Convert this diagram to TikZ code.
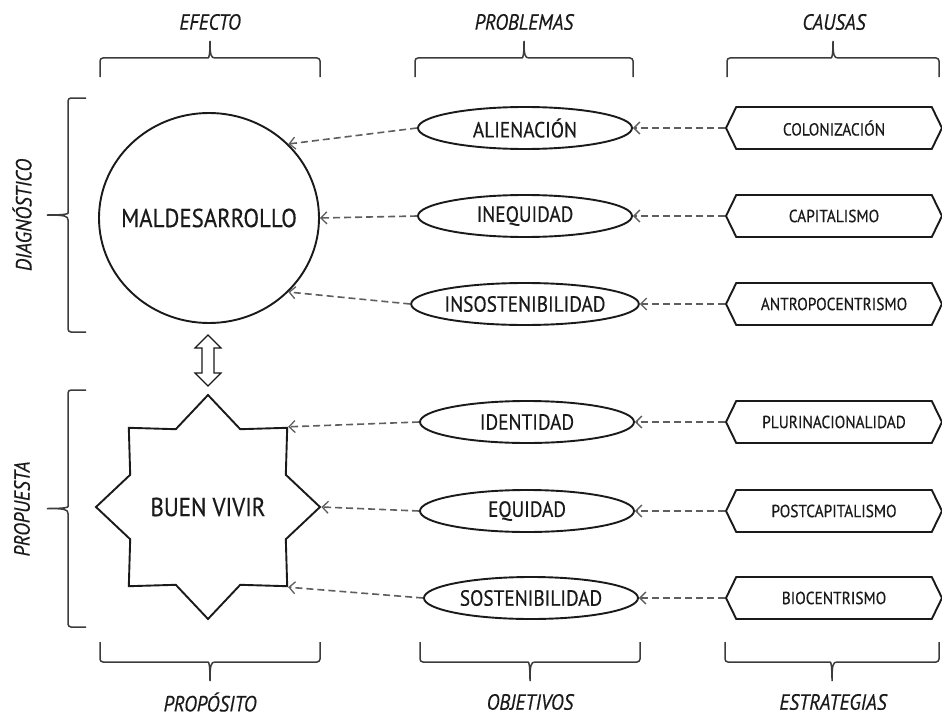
\documentclass[tikz,border=0pt]{standalone}
\usepackage{fontspec}
\setmainfont{PT Sans}[FakeStretch=0.88,FakeBold=0.4]
\usetikzlibrary{shapes.geometric,shapes.symbols,arrows.meta}
\definecolor{ink}{HTML}{1A1A1A}
\definecolor{dashgray}{HTML}{5E5E5E}
\newcommand\topbrc[2]{\pgfmathsetmacro\brcmid{(#1+#2)/2}%
  \draw[brc] (#1,77) [rounded corners=3pt]-- (#1,58) -- (\brcmid-5,58) [sharp corners]
    .. controls (\brcmid-1,58) and (\brcmid,55) .. (\brcmid,41)
    .. controls (\brcmid,55) and (\brcmid+1,58) .. (\brcmid+5,58)
    [rounded corners=3pt]-- (#2,58) -- (#2,77);}
\newcommand\botbrc[2]{\pgfmathsetmacro\brcmid{(#1+#2)/2}%
  \draw[brc] (#1,642) [rounded corners=3pt]-- (#1,662) -- (\brcmid-5,662) [sharp corners]
    .. controls (\brcmid-1,662) and (\brcmid,665) .. (\brcmid,681)
    .. controls (\brcmid,665) and (\brcmid+1,662) .. (\brcmid+5,662)
    [rounded corners=3pt]-- (#2,662) -- (#2,642);}
\newcommand\sidebrc[2]{\pgfmathsetmacro\brcmid{(#1+#2)/2}%
  \draw[brc] (86,#1) [rounded corners=3pt]-- (68,#1) -- (68,\brcmid-5) [sharp corners]
    .. controls (68,\brcmid-1) and (65,\brcmid) .. (47,\brcmid)
    .. controls (65,\brcmid) and (68,\brcmid+1) .. (68,\brcmid+5)
    [rounded corners=3pt]-- (68,#2) -- (86,#2);}
\begin{document}
\begin{tikzpicture}[x=1pt,y=-1pt,
  brc/.style={draw=ink!85, line width=1.5pt},
  lbl/.style={font=\fontsize{22}{22}\selectfont\itshape, text=ink, inner sep=0},
  prob/.style={ellipse, draw=ink, line width=1.9pt, minimum width=214, minimum height=42,
    inner sep=0, font=\fontsize{22}{22}\selectfont, text=ink},
  cause/.style={signal, signal to=west and east, signal pointer angle=128, draw=ink,
    line width=1.9pt, minimum width=216, minimum height=42, inner sep=0,
    font=\fontsize{17.5}{17.5}\selectfont, text=ink},
  big/.style={font=\fontsize{26}{26}\selectfont, text=ink, inner sep=0},
  link/.style={draw=dashgray, line width=1.6pt, dash pattern=on 7pt off 4pt,
    -{Straight Barb[length=6pt,width=12pt,line width=1.3pt]}}]
\useasboundingbox (0,0) rectangle (942,717);
\fill[white] (0,0) rectangle (942,717);

% column labels
\node[lbl] (lefecto) at (210,22) {EFECTO};
\node[lbl] (lprob) at (524,22) {PROBLEMAS};
\node[lbl] (lcaus) at (834,22) {CAUSAS};
\node[lbl] (lprop) at (210,702) {PROPÓSITO};
\node[lbl] (lobj) at (530,702) {OBJETIVOS};
\node[lbl] (lestr) at (833,702) {ESTRATEGIAS};
\node[lbl, rotate=90] (ldiag) at (22,215) {DIAGNÓSTICO};
\node[lbl, rotate=90] (lprop2) at (22,509) {PROPUESTA};

% braces
\topbrc{100}{320}
\topbrc{415}{633}
\topbrc{727}{939}
\botbrc{100}{320}
\botbrc{420}{640}
\botbrc{725}{939}
\sidebrc{98}{332}
\sidebrc{390}{627}

% effect / purpose
\node[ellipse, draw=ink, line width=1.9pt, minimum width=220, minimum height=210, inner sep=0,
  label={[big]center:MALDESARROLLO}] (mal) at (209,218) {};
\node[star, star points=8, star point ratio=1.33, draw=ink, line width=1.9pt, minimum size=224,
  inner sep=0, label={[big]center:BUEN VIVIR}] (bv) at (208,507) {};
\draw[draw=ink, line width=1.2pt, fill=white, line join=miter]
  (208,335) -- (221,348) -- (214,348) -- (214,373) -- (221,373) -- (208,386)
  -- (195,373) -- (202,373) -- (202,348) -- (195,348) -- cycle;

% problems / objectives
\node[prob] (ali) at (525,128) {ALIENACIÓN};
\node[prob] (ineq) at (525,216) {INEQUIDAD};
\node[prob] (insost) at (525,304) {INSOSTENIBILIDAD};
\node[prob] (ident) at (527,422) {IDENTIDAD};
\node[prob] (equi) at (527,511) {EQUIDAD};
\node[prob] (sost) at (531,598) {SOSTENIBILIDAD};

% causes / strategies
\node[cause] (col) at (834,128) {COLONIZACIÓN};
\node[cause] (capi) at (834,216) {CAPITALISMO};
\node[cause] (antro) at (834,304) {ANTROPOCENTRISMO};
\node[cause] (pluri) at (834,422) {PLURINACIONALIDAD};
\node[cause] (post) at (834,511) {POSTCAPITALISMO};
\node[cause] (bio) at (834,598) {BIOCENTRISMO};

% connectors
\draw[link] (col.west) -- (ali.east);
\draw[link] (capi.west) -- (ineq.east);
\draw[link] (antro.west) -- (insost.east);
\draw[link] (pluri.west) -- (ident.east);
\draw[link] (post.west) -- (equi.east);
\draw[link] (bio.west) -- (sost.east);
\draw[link] (ali.west) -- (mal.43);
\draw[link] (ineq.west) -- (mal.east);
\draw[link] (insost.west) -- (mal.-43);
\draw[link] (ident.west) -- (bv.45);
\draw[link] (equi.west) -- (bv.east);
\draw[link] (sost.west) -- (bv.-45);
\end{tikzpicture}
\end{document}
